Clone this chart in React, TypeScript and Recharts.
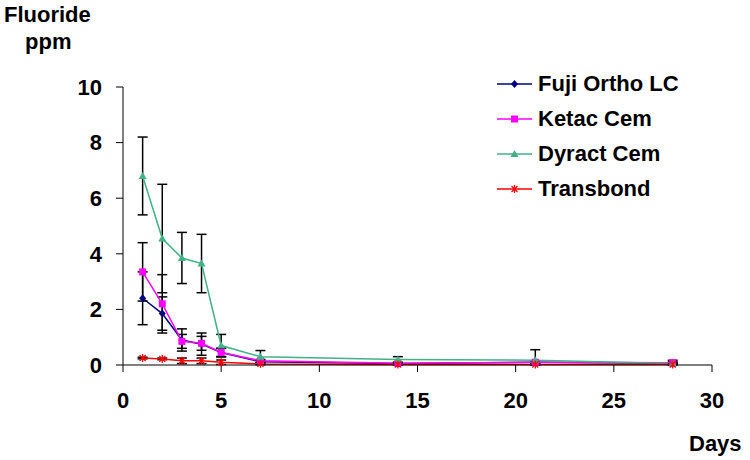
import { LineChart, Line, XAxis, YAxis, ErrorBar } from 'recharts'

// sampling days
const DAYS = [1, 2, 3, 4, 5, 7, 14, 21, 28]

// fluoride release (ppm) and standard deviations
const FUJI = [2.4, 1.85, 0.9, 0.75, 0.45, 0.12, 0.05, 0.1, 0.06]
const FUJI_ERR = [0.95, 0.6, 0.4, 0.4, 0.15, 0.05, 0.03, 0.05, 0.03]
const KETAC = [3.35, 2.2, 0.85, 0.78, 0.45, 0.15, 0.06, 0.1, 0.08]
const KETAC_ERR = [1.05, 1.05, 0.25, 0.25, 0.15, 0.05, 0.03, 0.05, 0.03]
const DYRACT = [6.8, 4.55, 3.85, 3.65, 0.7, 0.3, 0.2, 0.17, 0.05]
const DYRACT_ERR = [1.4, 1.95, 0.92, 1.05, 0.4, 0.22, 0.1, 0.38, 0.12]
const TRANSBOND = [0.25, 0.22, 0.15, 0.15, 0.1, 0.04, 0.02, 0.02, 0.02]
const TRANSBOND_ERR = [0.03, 0.03, 0.1, 0.1, 0.08, 0.03, 0.02, 0.02, 0.02]

const X_TICKS = [0, 5, 10, 15, 20, 25, 30]
const Y_TICKS = [0, 2, 4, 6, 8, 10]

type Shape = 'diamond' | 'square' | 'triangle' | 'star'

const SERIES: { key: string; name: string; color: string; shape: Shape }[] = [
  { key: 'fuji', name: 'Fuji Ortho LC', color: '#000080', shape: 'diamond' },
  { key: 'ketac', name: 'Ketac Cem', color: '#ff00ff', shape: 'square' },
  { key: 'dyract', name: 'Dyract Cem', color: '#40b284', shape: 'triangle' },
  { key: 'transbond', name: 'Transbond', color: '#ff0000', shape: 'star' },
]

// error bars are cut at the x axis, like the original plot
const clipErr = (v: number, e: number) => [Math.min(e, v), e]

const data = DAYS.map((day, i) => ({
  day,
  fuji: FUJI[i], fujiErr: clipErr(FUJI[i], FUJI_ERR[i]),
  ketac: KETAC[i], ketacErr: clipErr(KETAC[i], KETAC_ERR[i]),
  dyract: DYRACT[i], dyractErr: clipErr(DYRACT[i], DYRACT_ERR[i]),
  transbond: TRANSBOND[i], transbondErr: clipErr(TRANSBOND[i], TRANSBOND_ERR[i]),
}))

const FONT = '"Liberation Sans", Arial, sans-serif'

function Marker({ shape, x, y, color }: { shape: Shape; x: number; y: number; color: string }) {
  if (shape === 'diamond') {
    return <polygon points={`${x},${y - 4} ${x + 3.5},${y} ${x},${y + 4} ${x - 3.5},${y}`} fill={color} />
  }
  if (shape === 'square') {
    return <rect x={x - 3.5} y={y - 3.5} width={7} height={7} fill={color} />
  }
  if (shape === 'triangle') {
    return <polygon points={`${x},${y - 4} ${x + 4},${y + 3} ${x - 4},${y + 3}`} fill={color} />
  }
  return (
    <g stroke={color} strokeWidth={1.3}>
      <line x1={x - 3} y1={y - 3} x2={x + 3} y2={y + 3} />
      <line x1={x - 3} y1={y + 3} x2={x + 3} y2={y - 3} />
      <line x1={x} y1={y - 4} x2={x} y2={y + 4} />
    </g>
  )
}

function LegendBox() {
  return (
    <div style={{ position: 'absolute', left: 495, top: 66, fontFamily: FONT, fontWeight: 'bold', fontSize: 22, color: '#000' }}>
      {SERIES.map(s => (
        <div key={s.key} style={{ display: 'flex', alignItems: 'center', height: 35 }}>
          <svg width={40} height={20} style={{ marginRight: 3 }}>
            <line x1={2} y1={10} x2={37} y2={10} stroke={s.color} strokeWidth={1.5} />
            <Marker shape={s.shape} x={19.5} y={10} color={s.color} />
          </svg>
          <span>{s.name}</span>
        </div>
      ))}
    </div>
  )
}

const tickStyle = { fontSize: 22, fontWeight: 'bold', fill: '#000', fontFamily: FONT }
const labelStyle = { position: 'absolute' as const, fontSize: 22, fontWeight: 'bold', lineHeight: '22px' }

export default function App() {
  return (
    <div style={{ position: 'relative', width: 750, height: 460, background: '#fff', fontFamily: FONT }}>
      <style>{'body{margin:0}'}</style>
      <div style={{ ...labelStyle, left: 4, top: 4 }}>Fluoride</div>
      <div style={{ ...labelStyle, left: 25, top: 31 }}>ppm</div>
      <div style={{ ...labelStyle, left: 689, top: 433 }}>Days</div>
      <LineChart
        width={750}
        height={460}
        data={data}
        margin={{ top: 87, right: 38, bottom: 0, left: 0 }}
      >
        <XAxis
          dataKey="day"
          type="number"
          domain={[0, 30]}
          ticks={X_TICKS}
          height={95}
          tickSize={7}
          tickMargin={20}
          stroke="#000"
          tick={tickStyle}
        />
        <YAxis
          type="number"
          domain={[0, 10]}
          ticks={Y_TICKS}
          width={123}
          tickSize={7}
          tickMargin={14}
          stroke="#000"
          tick={tickStyle}
        />
        {SERIES.map(s => (
          <Line
            key={s.key}
            type="linear"
            dataKey={s.key}
            name={s.name}
            stroke={s.color}
            strokeWidth={1.5}
            isAnimationActive={false}
            dot={(p: any) => <Marker key={`${s.key}-${p.index}`} shape={s.shape} x={p.cx} y={p.cy} color={s.color} />}
            activeDot={false}
          >
            <ErrorBar dataKey={`${s.key}Err`} direction="y" width={5} stroke="#000" strokeWidth={1.5} isAnimationActive={false} />
          </Line>
        ))}
      </LineChart>
      <LegendBox />
    </div>
  )
}
